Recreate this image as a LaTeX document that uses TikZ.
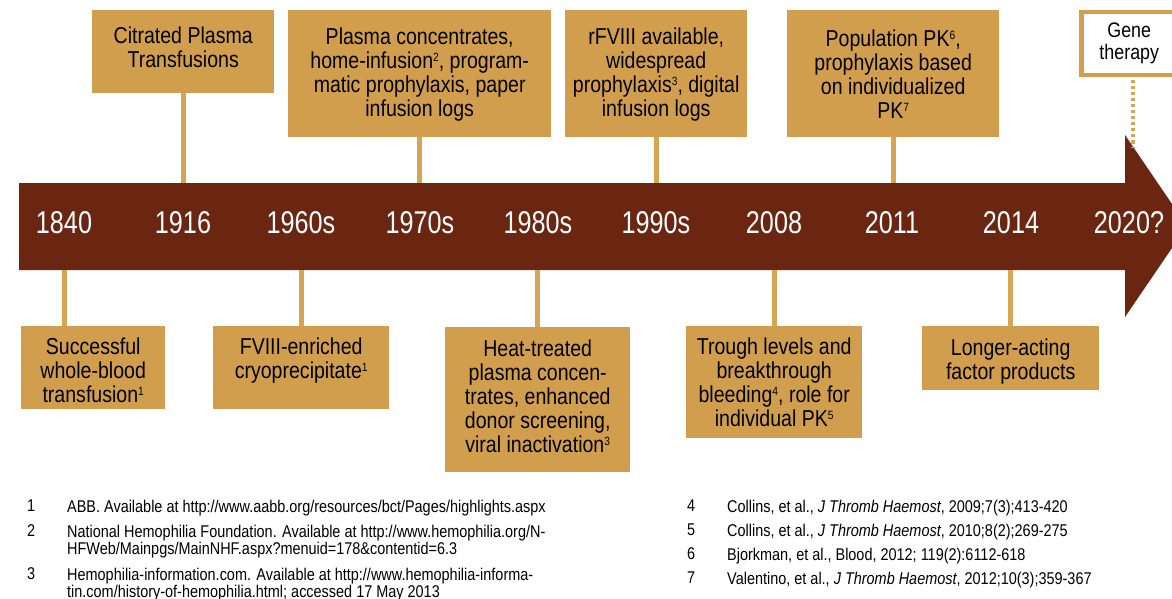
\documentclass[tikz,border=0pt]{standalone}
\usepackage{fontspec}
\setmainfont{Liberation Sans}[FakeStretch=0.85]
\newfontfamily\yearfont{Liberation Sans}[FakeStretch=0.8]
\usetikzlibrary{positioning}
\definecolor{bandbrown}{HTML}{6B2612}
\definecolor{boxgold}{HTML}{D19E4E}
\definecolor{linegold}{HTML}{D6A553}
\newcommand{\refno}[1]{\raisebox{7pt}{\fontsize{12}{12}\selectfont #1}}
\tikzset{gbox/.style = {fill = boxgold, inner sep = 0, anchor = north west},
  btext/.style = {align = center, inner sep = 0, anchor = north, font = \fontsize{23}{24}\selectfont},
  year/.style = {text = white, inner sep = 0, font = \yearfont\fontsize{31.5}{32}\selectfont},
  conn/.style = {linegold, line width = 5pt},
  fnote/.style = {inner sep = 0, anchor = north west, align = left, font = \fontsize{17}{17}\selectfont}}

\begin{document}
\begin{tikzpicture}[x = 1pt, y = -1pt]
      \useasboundingbox (0, 0) rectangle (1172, 599);
      \clip (0, 0) rectangle (1172, 599);

      % timeline band
      \fill [bandbrown] (19, 183) -- (1125, 183) -- (1125, 135) -- (1187, 226)
        -- (1125, 317) -- (1125, 270) -- (19, 270) -- cycle;
      \coordinate (btop) at (0, 183);
      \coordinate (bbot) at (0, 270);

      \node [year] (y1840) at (64, 223) {1840};
      \node [year] (y1916) at (183, 223) {1916};
      \node [year] (y1960) at (301, 223) {1960s};
      \node [year] (y1970) at (420, 223) {1970s};
      \node [year] (y1980) at (538, 223) {1980s};
      \node [year] (y1990) at (656, 223) {1990s};
      \node [year] (y2008) at (774, 223) {2008};
      \node [year] (y2011) at (892, 223) {2011};
      \node [year] (y2014) at (1011, 223) {2014};
      \node [year] (y2020) at (1129, 223) {2020?};

      % boxes above
      \node [gbox, minimum width = 182pt, minimum height = 83pt] (cit) at (92, 10) {};
      \node [btext] (citt) at ([yshift = -17pt] cit.north) {Citrated Plasma\\Transfusions};

      \node [gbox, minimum width = 263pt, minimum height = 127pt] (plas) at (288, 10) {};
      \node [btext] (plast) at ([yshift = -18pt] plas.north)
        {Plasma concentrates,\\home-infusion\refno{2}, program-\\matic prophylaxis, paper\\infusion logs};

      \node [gbox, minimum width = 182pt, minimum height = 127pt] (rf) at (565, 10) {};
      \node [btext] (rft) at ([yshift = -18pt] rf.north)
        {rFVIII available,\\widespread\\prophylaxis\refno{3}, digital\\infusion logs};

      \node [gbox, minimum width = 212pt, minimum height = 127pt] (pk) at (787, 10) {};
      \node [btext] (pkt) at ([yshift = -20pt] pk.north)
        {Population PK\refno{6},\\prophylaxis based\\on individualized\\PK\refno{7}};

      \node [draw = boxgold, line width = 4.5pt, fill = white, inner sep = 0, anchor = north west,
        minimum width = 96pt, minimum height = 63pt] (gene) at (1079, 10) {};
      \node [btext, font = \fontsize{21}{21.5}\selectfont] (genet) at ([yshift = -13pt] gene.north) {Gene\\therapy};

      % boxes below
      \node [gbox, minimum width = 144pt, minimum height = 83pt] (succ) at (21, 326) {};
      \node [btext] (succt) at ([yshift = -12pt] succ.north)
        {Successful\\whole-blood\\transfusion\refno{1}};

      \node [gbox, minimum width = 176pt, minimum height = 83pt] (cryo) at (213, 326) {};
      \node [btext] (cryot) at ([yshift = -12pt] cryo.north)
        {FVIII-enriched\\cryoprecipitate\refno{1}};

      \node [gbox, minimum width = 185pt, minimum height = 145pt] (heat) at (445, 327) {};
      \node [btext] (heatt) at ([yshift = -13pt] heat.north)
        {Heat-treated\\plasma concen-\\trates, enhanced\\donor screening,\\viral inactivation\refno{3}};

      \node [gbox, minimum width = 176pt, minimum height = 112pt] (trough) at (686, 326) {};
      \node [btext] (trought) at ([yshift = -12pt] trough.north)
        {Trough levels and\\breakthrough\\bleeding\refno{4}, role for\\individual PK\refno{5}};

      \node [gbox, minimum width = 177pt, minimum height = 64pt] (longer) at (922, 326) {};
      \node [btext] (longert) at ([yshift = -13pt] longer.north)
        {Longer-acting\\factor products};

      % connectors
      \draw [conn] (cit.south) -- (cit.south |- btop);
      \draw [conn] (plas.south) -- (plas.south |- btop);
      \draw [conn] (rf.south) -- (rf.south |- btop);
      \draw [conn] (pk.south) -- (pk.south |- btop);
      \coordinate (headtop) at (1133, 147);
      \draw [linegold, line width = 4pt, dash pattern = on 3pt off 3pt] ([yshift = -3pt] gene.south -| headtop) -- (headtop);

      \draw [conn] (y1840 |- bbot) -- (y1840 |- succ.north);
      \draw [conn] (cryo.north) -- (cryo.north |- bbot);
      \draw [conn] (heat.north) -- (heat.north |- bbot);
      \draw [conn] (trough.north) -- (trough.north |- bbot);
      \draw [conn] (longer.north) -- (longer.north |- bbot);

      % footnotes
      \node [fnote] (n1) at (27, 499.5) {1};
      \node [fnote] (f1) at (67, 499.5) {ABB. Available at http://www.aabb.org/resources/bct/Pages/highlights.aspx};
      \node [fnote] (n2) at (27, 524.5) {2};
      \node [fnote] (f2) at (67, 524.5)
        {National Hemophilia Foundation. Available at http://www.hemophilia.org/N-\\HFWeb/Mainpgs/MainNHF.aspx?menuid=178\&contentid=6.3};
      \node [fnote] (n3) at (27, 567.5) {3};
      \node [fnote] (f3) at (67, 567.5)
        {Hemophilia-information.com. Available at http://www.hemophilia-informa-\\tin.com/history-of-hemophilia.html; accessed 17 May 2013};

      \node [fnote] (n4) at (687, 499.5) {4};
      \node [fnote] (f4) at (727, 499.5) {Collins, et al., \textit{J Thromb Haemost}, 2009;7(3);413-420};
      \node [fnote] (n5) at (687, 523.5) {5};
      \node [fnote] (f5) at (727, 523.5) {Collins, et al., \textit{J Thromb Haemost}, 2010;8(2);269-275};
      \node [fnote] (n6) at (687, 547.5) {6};
      \node [fnote] (f6) at (727, 547.5) {Bjorkman, et al., Blood, 2012; 119(2):6112-618};
      \node [fnote] (n7) at (687, 571.5) {7};
      \node [fnote] (f7) at (727, 571.5) {Valentino, et al., \textit{J Thromb Haemost}, 2012;10(3);359-367};
    \end{tikzpicture}
\end{document}
